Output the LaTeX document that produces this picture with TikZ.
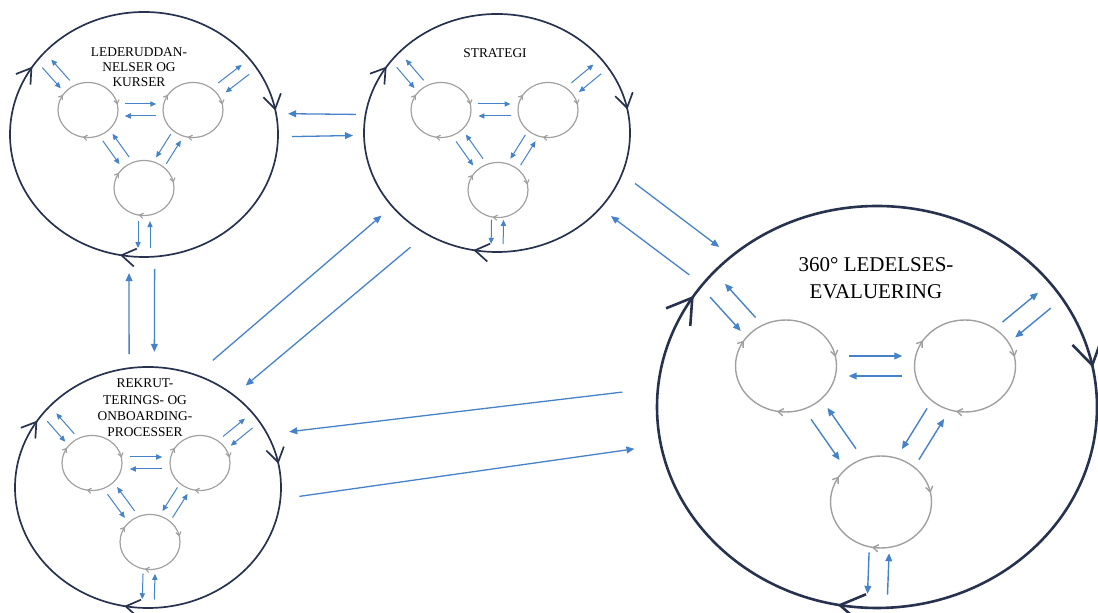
\documentclass[tikz,border=0pt]{standalone}
\usepackage{fontspec}
\setmainfont{Liberation Serif}
\usepackage{tikz}
\usetikzlibrary{calc, shapes, decorations.markings, arrows.meta}
\definecolor{ringnavy}{RGB}{38,50,78}
\definecolor{ringgrey}{RGB}{160,160,160}
\definecolor{flowblue}{RGB}{70,130,200}
\tikzset{
    clockmarks/.style = {postaction={decorate, decoration={markings,
        mark=at position 0.03 with {\arrowreversed{#1}},
        mark=at position 0.41 with {\arrowreversed{#1}},
        mark=at position 0.72 with {\arrowreversed{#1}}}}},
    ringbase/.style = {ellipse, inner sep=0pt, outer sep=0pt},
    bigring/.style = {ringbase, draw=ringnavy, line width=0.85pt,
      clockmarks={Straight Barb[length=7pt, width=9pt]}},
    hugering/.style = {ringbase, draw=ringnavy, line width=1.3pt,
      clockmarks={Straight Barb[length=12pt, width=15pt]}},
    smallring/.style = {ringbase, draw=ringgrey, line width=0.6pt, minimum width=30pt, minimum height=27.5pt,
      clockmarks={Straight Barb[length=1.8pt, width=2.6pt]}},
    wideinner/.style = {ringbase, draw=ringgrey, line width=0.7pt, minimum width=50.5pt, minimum height=46pt,
      clockmarks={Straight Barb[length=2.6pt, width=3.6pt]}},
    flow/.style = {draw=flowblue, line width=0.5pt, -{Triangle[length=3pt, width=2.6pt]}},
    wideflow/.style = {draw=flowblue, line width=0.7pt, -{Triangle[length=4pt, width=3.4pt]}},
    linkflow/.style = {draw=flowblue, line width=0.65pt, -{Triangle[length=4pt, width=3.4pt]}},
    ringtitle/.style = {align=center, inner sep=0pt, font=\fontsize{6.7}{7.5}\selectfont}
}
% two opposite arrows between a and b: style, a, b, from, to, side offset
\newcommand{\twoway}[6][flow]{%
  \draw[#1] ($(#2)!#4!(#3)!#6!90:(#3)$) -- ($(#2)!#5!(#3)!#6!90:(#3)$);
  \draw[#1] ($(#2)!#5!(#3)!#6!-90:(#3)$) -- ($(#2)!#4!(#3)!#6!-90:(#3)$);
}

\begin{document}
\begin{tikzpicture}[x=0.5pt, y=-0.5pt]
\useasboundingbox (0,0) rectangle (1098,613);

% lederuddannelser
\node [bigring, minimum width=134pt, minimum height=122.5pt] (lead) at (144,134.5) {};
\node [ringtitle] (leadtitle) at (139,67) {LEDERUDDAN-\\NELSER OG\\KURSER};
\node [smallring] (leadA) at (88,110) {};
\node [smallring] (leadB) at (193,110) {};
\node [smallring] (leadC) at (144,188) {};
\twoway{leadA}{leadB}{.35}{.65}{3pt}
\twoway{leadA}{leadC}{.35}{.65}{-3pt}
\twoway{leadB}{leadC}{.35}{.65}{-3pt}
\twoway{leadA}{lead.143}{.48}{.87}{-3pt}
\twoway{leadB}{lead.33}{.48}{.87}{3pt}
\twoway{leadC}{lead.270}{.48}{.87}{-3pt}

% strategi
\node [bigring, minimum width=133pt, minimum height=119pt] (strat) at (497,133) {};
\node [ringtitle] (strattitle) at (495,53) {STRATEGI};
\node [smallring] (stratA) at (441,110) {};
\node [smallring] (stratB) at (548,110) {};
\node [smallring] (stratC) at (498,190) {};
\twoway{stratA}{stratB}{.35}{.65}{3pt}
\twoway{stratA}{stratC}{.35}{.65}{-3pt}
\twoway{stratB}{stratC}{.35}{.65}{-3pt}
\twoway{stratA}{strat.143}{.48}{.87}{-3pt}
\twoway{stratB}{strat.33}{.48}{.87}{3pt}
\twoway{stratC}{strat.270}{.48}{.87}{-3pt}

% rekruttering
\node [bigring, minimum width=133pt, minimum height=120.5pt] (rekr) at (148,487.5) {};
\node [ringtitle, font=\fontsize{6.7}{8.2}\selectfont] (rekrtitle) at (145,408)
  {REKRUT-\\TERINGS- OG\\ONBOARDING-\\PROCESSER};
\node [smallring] (rekrA) at (92,463) {};
\node [smallring] (rekrB) at (200,463) {};
\node [smallring] (rekrC) at (150,542) {};
\twoway{rekrA}{rekrB}{.35}{.65}{3pt}
\twoway{rekrA}{rekrC}{.35}{.65}{-3pt}
\twoway{rekrB}{rekrC}{.35}{.65}{-3pt}
\twoway{rekrA}{rekr.143}{.48}{.87}{-3pt}
\twoway{rekrB}{rekr.33}{.48}{.87}{3pt}
\twoway{rekrC}{rekr.270}{.48}{.87}{-3pt}

% 360 evaluering
\node [hugering, minimum width=220pt, minimum height=201pt] (eval) at (877,407) {};
\node [ringtitle, font=\fontsize{10.5}{13.5}\selectfont] (evaltitle) at (876,278)
  {360° LEDELSES-\\EVALUERING};
\node [wideinner] (evalA) at (786,366) {};
\node [wideinner] (evalB) at (965,366) {};
\node [wideinner] (evalC) at (881,502) {};
\twoway[wideflow]{evalA}{evalB}{.35}{.65}{5pt}
\twoway[wideflow]{evalA}{evalC}{.35}{.65}{-5pt}
\twoway[wideflow]{evalB}{evalC}{.35}{.65}{-5pt}
\twoway[wideflow]{evalA}{eval.143}{.48}{.87}{-5pt}
\twoway[wideflow]{evalB}{eval.33}{.48}{.87}{5pt}
\twoway[wideflow]{evalC}{eval.270}{.48}{.87}{-5pt}

% links between the rings
\draw [linkflow, shorten <=4.9pt, shorten >=6pt] (strat.172) -- (lead.9);
\draw [linkflow, shorten <=7pt, shorten >=5.5pt] (lead.359) -- (strat.181);
\draw [linkflow, shorten <=7.1pt, shorten >=8.4pt] (rekr.99) -- (lead.263);
\draw [linkflow, shorten <=6.2pt, shorten >=7.6pt] (lead.275) -- (rekr.87);
\draw [linkflow, shorten <=11.2pt, shorten >=7.1pt] (rekr.67) -- (strat.215);
\draw [linkflow, shorten <=10.4pt, shorten >=7.7pt] (strat.235) -- (rekr.47);
\draw [linkflow, shorten <=8.2pt, shorten >=7.7pt] (strat.342) -- (eval.134);
\draw [linkflow, shorten <=8.2pt, shorten >=6.7pt] (eval.145) -- (strat.324);
\draw [linkflow, shorten <=18pt, shorten >=11pt] (eval.175) -- (rekr.24);
\draw [linkflow, shorten <=9.6pt, shorten >=13.4pt] (rekr.355) -- (eval.190);
\end{tikzpicture}
\end{document}
